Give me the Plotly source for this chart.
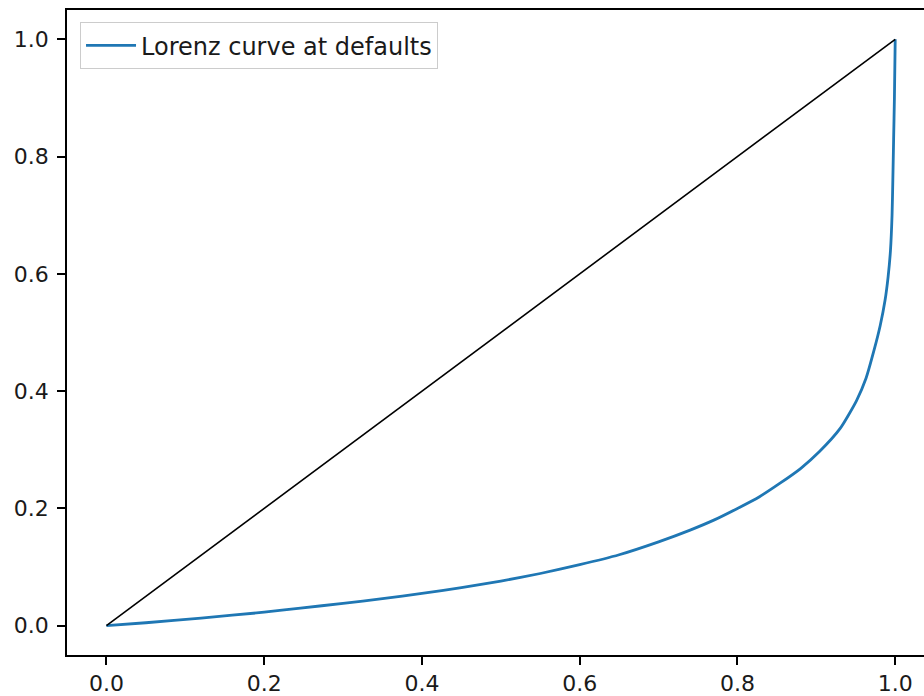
import plotly.graph_objects as go

# Lorenz curve values
share_people = [0.0, 0.05, 0.12, 0.2, 0.246, 0.3, 0.35, 0.4, 0.45, 0.5, 0.55, 0.6, 0.65,
                0.7, 0.74, 0.77, 0.8, 0.828, 0.854, 0.88, 0.904, 0.93, 0.951, 0.963,
                0.973, 0.981, 0.987, 0.991, 0.994, 0.996, 0.997, 0.998, 0.999, 1.0]
share_income = [0.0, 0.005, 0.013, 0.023, 0.030, 0.038, 0.046, 0.055, 0.065, 0.076, 0.089, 0.104, 0.121,
                0.143, 0.163, 0.180, 0.200, 0.220, 0.243, 0.268, 0.297, 0.336, 0.384, 0.422,
                0.469, 0.512, 0.554, 0.595, 0.640, 0.700, 0.760, 0.830, 0.900, 1.0]
equality_x = [0.0, 1.0]
equality_y = [0.0, 1.0]

tick_vals = [0.0, 0.2, 0.4, 0.6, 0.8, 1.0]
tick_text = ["0.0", "0.2", "0.4", "0.6", "0.8", "1.0"]

fig = go.Figure()
fig.add_trace(go.Scatter(x=share_people, y=share_income, mode="lines",
                         line=dict(color="#1f77b4", width=2.8, shape="spline", smoothing=0.6),
                         name="Lorenz curve at defaults"))
fig.add_trace(go.Scatter(x=equality_x, y=equality_y, mode="lines",
                         line=dict(color="#000000", width=1.6),
                         showlegend=False))

font = dict(family="DejaVu Sans", size=22, color="#1a1a1a")
fig.update_layout(
    width=924, height=696,
    margin=dict(l=67, r=0, t=10, b=41),
    paper_bgcolor="white", plot_bgcolor="white",
    font=font,
    showlegend=True,
    legend=dict(x=0.0152, y=0.981, xanchor="left", yanchor="top",
                bordercolor="#cccccc", borderwidth=1, bgcolor="rgba(255,255,255,0.8)",
                font=dict(family="DejaVu Sans", size=24, color="#1a1a1a"),
                itemwidth=50),
    xaxis=dict(range=[-0.05, 1.0365], tickvals=tick_vals, ticktext=tick_text,
               showgrid=False, zeroline=False, showline=True, linecolor="black",
               linewidth=1.6, mirror=True, ticks="outside", ticklen=8, tickwidth=1.6,
               tickcolor="black"),
    yaxis=dict(range=[-0.05, 1.05], tickvals=tick_vals, ticktext=tick_text,
               showgrid=False, zeroline=False, showline=True, linecolor="black",
               linewidth=1.6, mirror=False, ticks="outside", ticklen=8, tickwidth=1.6,
               tickcolor="black", ticklabelstandoff=4),
)
fig.write_html("out.html")
